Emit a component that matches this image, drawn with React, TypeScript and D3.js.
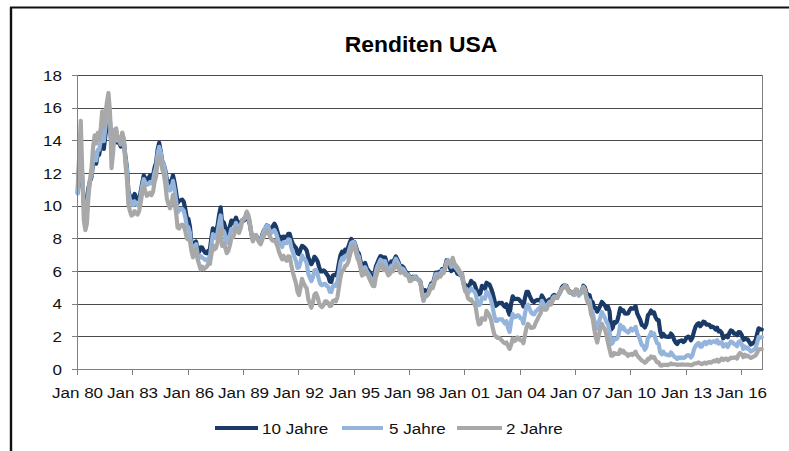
import React from "react";
import * as d3 from "d3";

// Monthly average yields (%), starting January 1980, through February 2017
const yield10: number[] = [
  10.8, 12.41, 12.75, 11.47, 10.18, 9.78, 10.25, 11.1, 11.51, 11.75, 12.68, 12.84,
  12.57, 13.19, 13.12, 13.68, 14.1, 13.47, 14.28, 14.94, 15.2, 15.15, 13.39, 13.72,
  14.59, 14.43, 13.86, 13.87, 13.62, 14.3, 13.95, 13.06, 12.34, 10.91, 10.55, 10.54,
  10.46, 10.72, 10.51, 10.4, 10.38, 10.85, 11.38, 11.85, 11.65, 11.54, 11.69, 11.83,
  11.67, 11.84, 12.32, 12.63, 13.41, 13.85, 13.36, 12.72, 12.52, 12.16, 11.57, 11.5,
  11.38, 11.51, 11.86, 11.43, 10.85, 10.16, 10.31, 10.33, 10.37, 10.24, 9.78, 9.26,
  9.19, 8.7, 7.78, 7.3, 7.71, 7.8, 7.3, 7.17, 7.45, 7.43, 7.25, 7.11,
  7.08, 7.25, 7.25, 8.02, 8.61, 8.4, 8.45, 8.76, 9.42, 9.9, 8.86, 8.99,
  8.67, 8.21, 8.37, 8.72, 9.09, 8.92, 9.06, 9.26, 8.98, 8.8, 8.96, 9.11,
  9.09, 9.17, 9.36, 9.18, 8.86, 8.28, 8.02, 8.11, 8.19, 8.01, 7.87, 7.84,
  8.21, 8.47, 8.59, 8.79, 8.76, 8.48, 8.47, 8.75, 8.89, 8.72, 8.39, 8.08,
  8.09, 7.85, 8.11, 8.04, 8.07, 8.28, 8.27, 7.9, 7.65, 7.53, 7.42, 7.09,
  7.03, 7.34, 7.54, 7.48, 7.39, 7.26, 6.84, 6.59, 6.42, 6.59, 6.87, 6.77,
  6.6, 6.26, 5.98, 5.97, 6.04, 5.96, 5.81, 5.68, 5.36, 5.33, 5.72, 5.77,
  5.75, 5.97, 6.48, 6.97, 7.18, 7.1, 7.3, 7.24, 7.46, 7.74, 7.96, 7.81,
  7.78, 7.47, 7.2, 7.06, 6.63, 6.17, 6.28, 6.49, 6.2, 6.04, 5.93, 5.71,
  5.65, 5.81, 6.27, 6.51, 6.74, 6.91, 6.87, 6.64, 6.83, 6.53, 6.2, 6.3,
  6.58, 6.42, 6.69, 6.89, 6.71, 6.49, 6.22, 6.3, 6.21, 6.03, 5.88, 5.81,
  5.54, 5.57, 5.65, 5.64, 5.65, 5.5, 5.46, 5.34, 4.81, 4.53, 4.83, 4.65,
  4.72, 5.0, 5.23, 5.18, 5.54, 5.9, 5.79, 5.94, 5.92, 6.11, 6.03, 6.28,
  6.66, 6.52, 6.26, 5.99, 6.44, 6.1, 6.05, 5.83, 5.8, 5.74, 5.72, 5.24,
  5.16, 5.1, 4.89, 5.14, 5.39, 5.28, 5.24, 4.97, 4.73, 4.57, 4.65, 5.09,
  5.04, 4.91, 5.28, 5.21, 5.16, 4.93, 4.65, 4.26, 3.87, 3.94, 4.05, 4.03,
  4.05, 3.9, 3.81, 3.96, 3.57, 3.33, 3.98, 4.45, 4.27, 4.29, 4.3, 4.27,
  4.15, 4.08, 3.83, 4.35, 4.72, 4.73, 4.5, 4.28, 4.13, 4.1, 4.19, 4.23,
  4.22, 4.17, 4.5, 4.34, 4.14, 4.0, 4.18, 4.26, 4.2, 4.46, 4.54, 4.47,
  4.42, 4.57, 4.72, 4.99, 5.11, 5.11, 5.09, 4.88, 4.72, 4.73, 4.6, 4.56,
  4.76, 4.72, 4.56, 4.69, 4.75, 5.1, 5.0, 4.67, 4.52, 4.53, 4.15, 4.1,
  3.74, 3.74, 3.51, 3.68, 3.88, 4.1, 4.01, 3.89, 3.69, 3.81, 3.53, 2.42,
  2.52, 2.87, 2.82, 2.93, 3.29, 3.72, 3.56, 3.59, 3.4, 3.39, 3.4, 3.59,
  3.73, 3.69, 3.73, 3.85, 3.42, 3.2, 3.01, 2.7, 2.65, 2.54, 2.76, 3.29,
  3.39, 3.58, 3.41, 3.46, 3.17, 3.0, 3.0, 2.3, 1.98, 2.15, 2.01, 1.98,
  1.97, 1.97, 2.17, 2.05, 1.8, 1.62, 1.53, 1.68, 1.72, 1.75, 1.65, 1.72,
  1.91, 1.98, 1.96, 1.76, 1.93, 2.3, 2.58, 2.74, 2.81, 2.62, 2.72, 2.9,
  2.86, 2.71, 2.72, 2.71, 2.56, 2.6, 2.54, 2.42, 2.53, 2.3, 2.33, 2.21,
  1.88, 1.98, 2.04, 1.94, 2.2, 2.36, 2.32, 2.17, 2.17, 2.07, 2.26, 2.24,
  2.09, 1.78, 1.89, 1.81, 1.81, 1.64, 1.5, 1.56, 1.63, 1.76, 2.14, 2.49,
  2.43, 2.42,
];

const yield5: number[] = [
  10.74, 12.6, 13.47, 11.84, 9.95, 9.21, 9.53, 10.84, 11.62, 11.86, 12.83, 13.25,
  12.77, 13.41, 13.41, 13.99, 14.63, 13.95, 14.79, 15.56, 15.93, 15.41, 13.38, 13.6,
  14.65, 14.54, 13.98, 14.0, 13.75, 14.43, 14.07, 13.0, 12.25, 10.8, 10.38, 10.22,
  10.03, 10.26, 10.08, 10.02, 10.03, 10.63, 11.21, 11.63, 11.43, 11.28, 11.32, 11.44,
  11.37, 11.54, 12.02, 12.37, 13.17, 13.6, 13.27, 12.68, 12.53, 12.06, 11.33, 11.07,
  10.93, 11.13, 11.52, 11.01, 10.34, 9.6, 9.7, 9.81, 9.81, 9.69, 9.28, 8.73,
  8.68, 8.34, 7.46, 7.05, 7.52, 7.64, 7.06, 6.8, 6.92, 6.83, 6.76, 6.67,
  6.64, 6.79, 6.79, 7.57, 8.26, 8.02, 8.01, 8.32, 8.94, 9.4, 8.35, 8.45,
  8.18, 7.71, 7.83, 8.19, 8.58, 8.49, 8.66, 8.94, 8.69, 8.51, 8.79, 9.09,
  9.15, 9.27, 9.51, 9.3, 8.91, 8.29, 7.83, 8.09, 8.17, 7.97, 7.81, 7.75,
  8.12, 8.42, 8.6, 8.77, 8.74, 8.43, 8.33, 8.44, 8.51, 8.33, 8.02, 7.73,
  7.7, 7.47, 7.77, 7.7, 7.7, 7.94, 7.91, 7.43, 7.14, 6.87, 6.62, 6.19,
  6.24, 6.58, 6.95, 6.78, 6.69, 6.48, 5.84, 5.6, 5.38, 5.6, 6.04, 6.08,
  5.83, 5.43, 5.19, 5.13, 5.2, 5.22, 5.09, 5.03, 4.73, 4.71, 5.06, 5.15,
  5.09, 5.4, 5.94, 6.52, 6.78, 6.7, 6.91, 6.88, 7.08, 7.4, 7.72, 7.78,
  7.76, 7.37, 7.05, 6.86, 6.41, 5.93, 6.01, 6.24, 6.0, 5.86, 5.69, 5.51,
  5.36, 5.38, 5.97, 6.3, 6.48, 6.69, 6.64, 6.39, 6.6, 6.27, 5.97, 6.07,
  6.33, 6.2, 6.54, 6.76, 6.57, 6.38, 6.12, 6.16, 6.11, 5.93, 5.8, 5.77,
  5.49, 5.49, 5.61, 5.61, 5.63, 5.52, 5.46, 5.27, 4.62, 4.18, 4.54, 4.45,
  4.6, 4.91, 5.14, 5.08, 5.44, 5.81, 5.68, 5.84, 5.8, 6.03, 5.97, 6.19,
  6.58, 6.68, 6.5, 6.26, 6.69, 6.3, 6.18, 6.06, 5.93, 5.78, 5.7, 5.17,
  4.86, 4.89, 4.64, 4.76, 4.93, 4.81, 4.76, 4.57, 4.12, 3.91, 3.97, 4.39,
  4.34, 4.3, 4.74, 4.65, 4.49, 4.19, 3.81, 3.29, 2.94, 2.95, 3.05, 3.03,
  3.05, 2.9, 2.78, 2.93, 2.52, 2.27, 2.87, 3.37, 3.18, 3.19, 3.29, 3.27,
  3.12, 3.07, 2.79, 3.39, 3.85, 3.93, 3.69, 3.47, 3.36, 3.35, 3.53, 3.6,
  3.71, 3.77, 4.17, 4.0, 3.85, 3.77, 3.98, 4.12, 4.01, 4.33, 4.45, 4.39,
  4.35, 4.57, 4.72, 4.9, 5.0, 5.07, 5.04, 4.82, 4.67, 4.69, 4.58, 4.53,
  4.75, 4.71, 4.48, 4.59, 4.67, 5.03, 4.88, 4.43, 4.2, 4.2, 3.67, 3.49,
  2.98, 2.78, 2.48, 2.84, 3.15, 3.49, 3.3, 3.14, 2.88, 2.73, 2.29, 1.52,
  1.6, 1.87, 1.82, 1.86, 2.13, 2.71, 2.46, 2.57, 2.37, 2.33, 2.23, 2.34,
  2.48, 2.36, 2.43, 2.58, 2.18, 2.0, 1.76, 1.47, 1.41, 1.18, 1.35, 1.93,
  1.99, 2.26, 2.11, 2.17, 1.84, 1.58, 1.54, 1.02, 0.9, 1.06, 0.91, 0.89,
  0.84, 0.83, 1.02, 0.89, 0.76, 0.71, 0.62, 0.71, 0.67, 0.71, 0.67, 0.7,
  0.81, 0.85, 0.82, 0.71, 0.84, 1.2, 1.4, 1.52, 1.6, 1.37, 1.37, 1.58,
  1.65, 1.52, 1.64, 1.7, 1.59, 1.68, 1.7, 1.63, 1.77, 1.55, 1.62, 1.64,
  1.37, 1.47, 1.52, 1.35, 1.54, 1.68, 1.63, 1.54, 1.49, 1.39, 1.67, 1.7,
  1.52, 1.22, 1.38, 1.26, 1.3, 1.17, 1.07, 1.13, 1.18, 1.27, 1.6, 1.96,
  1.92, 1.95,
];

const yield2: number[] = [
  11.12, 13.2, 15.2, 12.0, 9.1, 8.5, 8.9, 10.6, 11.6, 12.3, 13.6, 14.3,
  13.81, 14.45, 14.04, 14.76, 15.78, 14.81, 15.55, 16.32, 16.9, 15.72, 12.3, 13.2,
  14.64, 14.73, 14.13, 14.18, 13.77, 14.48, 14.07, 12.62, 11.67, 10.08, 9.66, 9.4,
  9.45, 9.67, 9.53, 9.46, 9.66, 10.19, 10.78, 11.24, 10.88, 10.6, 10.69, 10.79,
  10.64, 10.85, 11.44, 11.79, 12.7, 13.02, 12.88, 12.24, 11.94, 11.32, 10.41, 10.11,
  9.84, 10.14, 10.66, 10.24, 9.59, 8.66, 8.6, 8.78, 8.84, 8.75, 8.44, 7.98,
  7.93, 7.82, 7.24, 6.84, 7.25, 7.37, 6.74, 6.4, 6.1, 6.27, 6.11, 6.19,
  6.27, 6.45, 6.43, 7.0, 7.57, 7.32, 7.41, 7.72, 8.34, 8.6, 7.53, 7.73,
  7.42, 7.09, 7.23, 7.56, 8.04, 8.05, 8.29, 8.67, 8.49, 8.33, 8.62, 9.06,
  9.2, 9.37, 9.64, 9.44, 9.04, 8.28, 7.82, 8.14, 8.21, 7.95, 7.76, 7.63,
  7.89, 8.14, 8.29, 8.48, 8.43, 8.14, 7.95, 7.86, 7.85, 7.74, 7.51, 7.16,
  6.92, 6.72, 6.93, 6.72, 6.63, 6.9, 6.88, 6.36, 5.91, 5.58, 5.26, 4.73,
  4.52, 5.01, 5.52, 5.24, 5.08, 4.93, 4.3, 4.0, 3.75, 4.07, 4.55, 4.64,
  4.42, 4.05, 3.87, 3.8, 3.91, 4.14, 4.14, 4.03, 3.85, 3.89, 4.16, 4.21,
  4.14, 4.42, 5.01, 5.63, 6.0, 6.05, 6.31, 6.36, 6.56, 6.92, 7.29, 7.58,
  7.51, 7.11, 6.78, 6.57, 6.17, 5.72, 5.78, 5.98, 5.81, 5.72, 5.48, 5.29,
  5.09, 5.07, 5.62, 5.93, 6.14, 6.38, 6.36, 6.05, 6.19, 5.97, 5.74, 5.81,
  6.03, 5.98, 6.21, 6.41, 6.26, 6.1, 5.89, 5.94, 5.88, 5.77, 5.71, 5.72,
  5.38, 5.41, 5.52, 5.52, 5.52, 5.48, 5.43, 5.25, 4.68, 4.19, 4.47, 4.5,
  4.57, 4.79, 4.99, 4.96, 5.25, 5.62, 5.55, 5.68, 5.66, 5.86, 5.86, 6.1,
  6.44, 6.61, 6.53, 6.4, 6.81, 6.48, 6.34, 6.23, 6.08, 5.91, 5.88, 5.35,
  4.76, 4.66, 4.34, 4.23, 4.26, 4.08, 4.04, 3.76, 3.12, 2.73, 2.78, 3.11,
  3.03, 3.02, 3.56, 3.42, 3.26, 2.99, 2.56, 2.13, 2.0, 1.91, 1.92, 1.84,
  1.74, 1.63, 1.57, 1.62, 1.42, 1.23, 1.47, 1.86, 1.71, 1.75, 1.93, 1.91,
  1.76, 1.74, 1.58, 2.07, 2.53, 2.76, 2.64, 2.51, 2.53, 2.58, 2.85, 3.01,
  3.22, 3.38, 3.73, 3.65, 3.64, 3.64, 3.87, 4.04, 3.95, 4.17, 4.33, 4.39,
  4.35, 4.64, 4.74, 4.89, 4.97, 5.12, 5.04, 4.82, 4.67, 4.69, 4.58, 4.67,
  4.88, 4.85, 4.57, 4.67, 4.77, 4.98, 4.82, 4.31, 4.01, 3.97, 3.34, 3.12,
  2.48, 1.97, 1.62, 2.05, 2.45, 2.77, 2.57, 2.42, 2.08, 1.61, 1.21, 0.82,
  0.81, 0.98, 0.93, 0.93, 0.92, 1.18, 1.02, 1.12, 0.96, 0.95, 0.8, 0.87,
  0.93, 0.86, 0.96, 1.06, 0.83, 0.72, 0.62, 0.52, 0.47, 0.38, 0.45, 0.62,
  0.61, 0.77, 0.7, 0.73, 0.56, 0.41, 0.41, 0.23, 0.2, 0.26, 0.25, 0.26,
  0.24, 0.28, 0.34, 0.29, 0.29, 0.29, 0.25, 0.27, 0.26, 0.28, 0.27, 0.26,
  0.27, 0.27, 0.26, 0.23, 0.25, 0.33, 0.34, 0.36, 0.4, 0.34, 0.3, 0.34,
  0.39, 0.33, 0.4, 0.42, 0.39, 0.45, 0.51, 0.47, 0.57, 0.45, 0.54, 0.64,
  0.55, 0.62, 0.64, 0.54, 0.61, 0.69, 0.67, 0.7, 0.71, 0.64, 0.88, 0.98,
  0.9, 0.73, 0.88, 0.77, 0.82, 0.73, 0.67, 0.74, 0.77, 0.84, 0.98, 1.2,
  1.21, 1.22,
];

const seriesNames = ["10 Jahre", "5 Jahre", "2 Jahre"];
const seriesColors = ["#1a3a68", "#94b4dc", "#a8a8a8"];
const yTicks = [0, 2, 4, 6, 8, 10, 12, 14, 16, 18];
const xTickYears = [1980, 1983, 1986, 1989, 1992, 1995, 1998, 2001, 2004, 2007, 2010, 2013, 2016];

const W = 789;
const H = 451;
const plot = { left: 77, right: 762, top: 75, bottom: 369 };
const FONT = "Liberation Sans, Arial, sans-serif";
// labels are set slightly wide, like a horizontally stretched export
const STRETCH = 1.1;

export default function App() {
  const x = d3
    .scaleTime()
    .domain([new Date(1980, 0, 1), new Date(2017, 1, 20)])
    .range([plot.left, plot.right]);
  const y = d3.scaleLinear().domain([0, 18]).range([plot.bottom, plot.top]);

  const toPoints = (vals: number[]) =>
    vals.map((v, i) => ({ date: new Date(1980, i, 15), v }));

  const line = d3
    .line<{ date: Date; v: number }>()
    .x((d) => x(d.date))
    .y((d) => y(d.v));

  const series = [yield10, yield5, yield2];

  const legendItems = [
    { x1: 215, x2: 258, tx: 262 },
    { x1: 342, x2: 383, tx: 389 },
    { x1: 457, x2: 502, tx: 506 },
  ];

  return (
    <svg
      width={W}
      height={H}
      style={{ position: "absolute", left: 0, top: 0, background: "#fff" }}
      fontFamily={FONT}
    >
      <rect width={W} height={H} fill="#fff" />
      {/* outer frame */}
      <line x1={10} x2={W} y1={7.5} y2={7.5} stroke="#111" strokeWidth={2} />
      <line x1={11} x2={11} y1={7} y2={H} stroke="#111" strokeWidth={2.4} />

      <text
        transform="translate(421,52) scale(1.04,1)"
        textAnchor="middle"
        fontSize={22}
        fontWeight="bold"
        fill="#000"
      >
        Renditen USA
      </text>

      {/* horizontal gridlines and y labels */}
      {yTicks.map((t) => (
        <g key={t}>
          {t > 0 && (
            <line
              x1={plot.left}
              x2={plot.right}
              y1={Math.round(y(t)) + 0.5}
              y2={Math.round(y(t)) + 0.5}
              stroke="#4a4a4a"
              strokeWidth={1}
            />
          )}
          <line
            x1={plot.left - 5}
            x2={plot.left}
            y1={Math.round(y(t)) + 0.5}
            y2={Math.round(y(t)) + 0.5}
            stroke="#808080"
          />
          <text
            transform={`translate(62,${y(t) + 5.5}) scale(${STRETCH},1)`}
            textAnchor="end"
            fontSize={15.5}
            fill="#111"
          >
            {t}
          </text>
        </g>
      ))}

      {/* right frame of plot */}
      <line x1={plot.right + 0.5} x2={plot.right + 0.5} y1={plot.top} y2={plot.bottom} stroke="#808080" />

      {/* series */}
      {series.map((vals, i) => (
        <path
          key={seriesNames[i]}
          d={line(toPoints(vals)) || ""}
          fill="none"
          stroke={seriesColors[i]}
          strokeWidth={4.2}
          strokeLinejoin="round"
          strokeLinecap="round"
        />
      ))}

      {/* axes */}
      <line x1={plot.left + 0.5} x2={plot.left + 0.5} y1={plot.top} y2={plot.bottom} stroke="#808080" />
      <line x1={plot.left} x2={plot.right + 1} y1={plot.bottom + 0.5} y2={plot.bottom + 0.5} stroke="#808080" />
      {xTickYears.map((yr) => {
        const px = Math.round(x(new Date(yr, 0, 1))) + 0.5;
        return (
          <g key={yr}>
            <line x1={px} x2={px} y1={plot.bottom} y2={plot.bottom + 6} stroke="#808080" />
            <text
              transform={`translate(${px},398) scale(${STRETCH},1)`}
              textAnchor="middle"
              fontSize={15.5}
              fill="#111"
            >
              {"Jan " + String(yr % 100).padStart(2, "0")}
            </text>
          </g>
        );
      })}

      {/* legend */}
      {legendItems.map((it, i) => (
        <g key={seriesNames[i]}>
          <line x1={it.x1} x2={it.x2} y1={428} y2={428} stroke={seriesColors[i]} strokeWidth={4} />
          <text
            transform={`translate(${it.tx},434) scale(${STRETCH},1)`}
            fontSize={15.5}
            fill="#111"
          >
            {seriesNames[i]}
          </text>
        </g>
      ))}
    </svg>
  );
}
